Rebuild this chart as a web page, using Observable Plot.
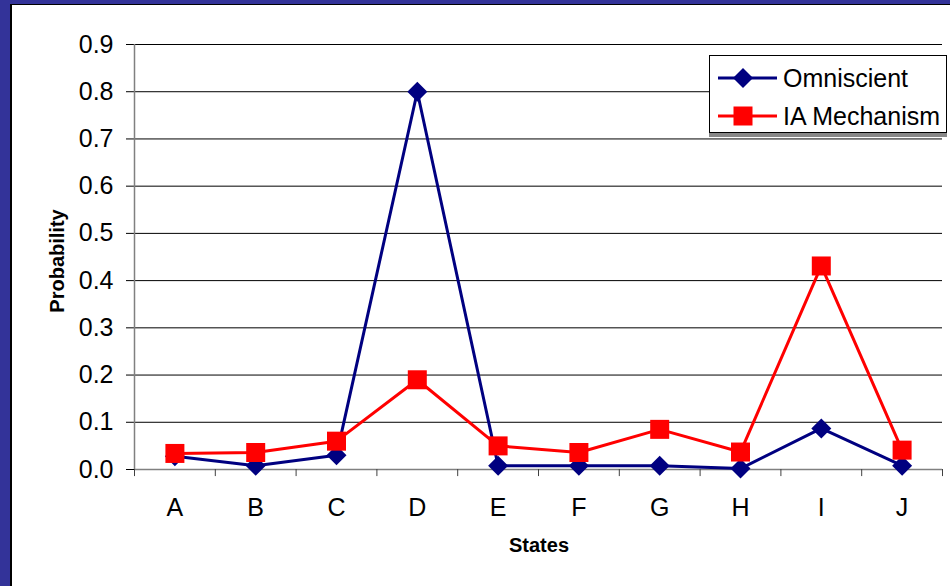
<!DOCTYPE html>
<html>
<head>
<meta charset="utf-8">
<script src="https://cdn.jsdelivr.net/npm/d3@7"></script>
<script src="https://cdn.jsdelivr.net/npm/@observablehq/plot@0.6"></script>
<style>
  html, body { margin: 0; padding: 0; }
  body { width: 950px; height: 586px; overflow: hidden; background: #333399; position: relative;
         font-family: "Liberation Sans", Arial, sans-serif; }
  #panel { position: absolute; left: 10px; top: 4px; width: 1000px; height: 700px; background: #fff;
           border-left: 2px solid #000; border-top: 1px solid #000; }
  #chart { position: absolute; left: 0; top: 0; }
  .title { position: absolute; font-weight: bold; font-size: 20px; color: #000; white-space: nowrap; }
  #ytitle { left: 57px; top: 261px; transform: translate(-50%, -50%) rotate(-90deg); }
  #xtitle { left: 539px; top: 545px; transform: translate(-50%, -50%); }
  #legend { position: absolute; left: 709px; top: 55px; width: 236px; height: 76px; background: #fff;
            border: 1px solid #000; box-shadow: 0 4px 0 #888; }
  .item { position: absolute; left: 8px; height: 30px; display: flex; align-items: center; font-size: 25px; }
  .item svg { margin-right: 5px; }
</style>
</head>
<body>
<div id="panel"></div>
<div id="chart"></div>
<div class="title" id="ytitle">Probability</div>
<div class="title" id="xtitle">States</div>
<div id="legend">
  <div class="item" style="top:7px"><svg width="60" height="22"><line x1="0" y1="11" x2="59" y2="11" stroke="#000080" stroke-width="3"/><path d="M25,1L35,11L25,21L15,11Z" fill="#000080"/></svg>Omniscient</div>
  <div class="item" style="top:45px"><svg width="60" height="22"><line x1="0" y1="11" x2="59" y2="11" stroke="#ff0000" stroke-width="3"/><rect x="15.5" y="1.5" width="19" height="19" fill="#ff0000"/></svg>IA Mechanism</div>
</div>
<script>
// States on the horizontal axis
const states = ["A", "B", "C", "D", "E", "F", "G", "H", "I", "J"];
// Probability of each state, per series
const omniscient = [0.028, 0.008, 0.030, 0.800, 0.008, 0.008, 0.008, 0.002, 0.087, 0.008];
const iaMechanism = [0.034, 0.036, 0.060, 0.190, 0.050, 0.036, 0.085, 0.037, 0.431, 0.041];
// Probability gridlines / tick values
const yTicks = [0, 0.1, 0.2, 0.3, 0.4, 0.5, 0.6, 0.7, 0.8, 0.9];

const rows = (values, series) => values.map((v, i) => ({i, state: states[i], value: v, series}));
const omniRows = rows(omniscient, "Omniscient");
const iaRows = rows(iaMechanism, "IA Mechanism");

// Marker shapes: a diamond (rotated square) and a square, half-size = sqrt(size / PI) = r
const diamond = {draw(ctx, size) { const r = Math.sqrt(size / Math.PI); ctx.moveTo(0, -r); ctx.lineTo(r, 0); ctx.lineTo(0, r); ctx.lineTo(-r, 0); ctx.closePath(); }};
const square = {draw(ctx, size) { const r = Math.sqrt(size / Math.PI); ctx.rect(-r, -r, 2 * r, 2 * r); }};

// Category boundaries for the small ticks under the axis
const bounds = d3.range(states.length + 1).map((k) => k - 0.5);

const chart = Plot.plot({
  width: 950,
  height: 586,
  marginLeft: 134,
  marginRight: 8,
  marginTop: 44,
  marginBottom: 117,
  style: {background: "transparent", fontFamily: "'Liberation Sans', Arial, sans-serif", fontSize: "25px", color: "#000"},
  x: {type: "linear", domain: [-0.5, states.length - 0.5], ticks: d3.range(states.length),
      tickFormat: (i) => states[i], tickSize: 0, tickPadding: 29, label: null},
  y: {domain: [0, 0.9], ticks: yTicks, tickFormat: d3.format(".1f"), tickSize: 8, tickPadding: 13, label: null},
  marks: [
    Plot.ruleY(yTicks.filter((t) => t > 0), {x1: -0.5, x2: states.length - 0.5, stroke: "#000", strokeWidth: 1}),
    Plot.ruleY([0], {x1: -0.5, x2: states.length - 0.5, stroke: "#808080", strokeWidth: 1.5}),
    Plot.ruleX([-0.5], {y1: 0, y2: 0.9, stroke: "#808080", strokeWidth: 1.5}),
    Plot.ruleX(bounds, {y1: 0, y2: -0.015, stroke: "#404040", strokeWidth: 1}),
    Plot.line(omniRows, {x: "i", y: "value", stroke: "#000080", strokeWidth: 3}),
    Plot.dot(omniRows, {x: "i", y: "value", symbol: diamond, r: 10, fill: "#000080", stroke: "none"}),
    Plot.line(iaRows, {x: "i", y: "value", stroke: "#ff0000", strokeWidth: 3}),
    Plot.dot(iaRows, {x: "i", y: "value", symbol: square, r: 9.5, fill: "#ff0000", stroke: "none"})
  ]
});
document.getElementById("chart").append(chart);
</script>
</body>
</html>
